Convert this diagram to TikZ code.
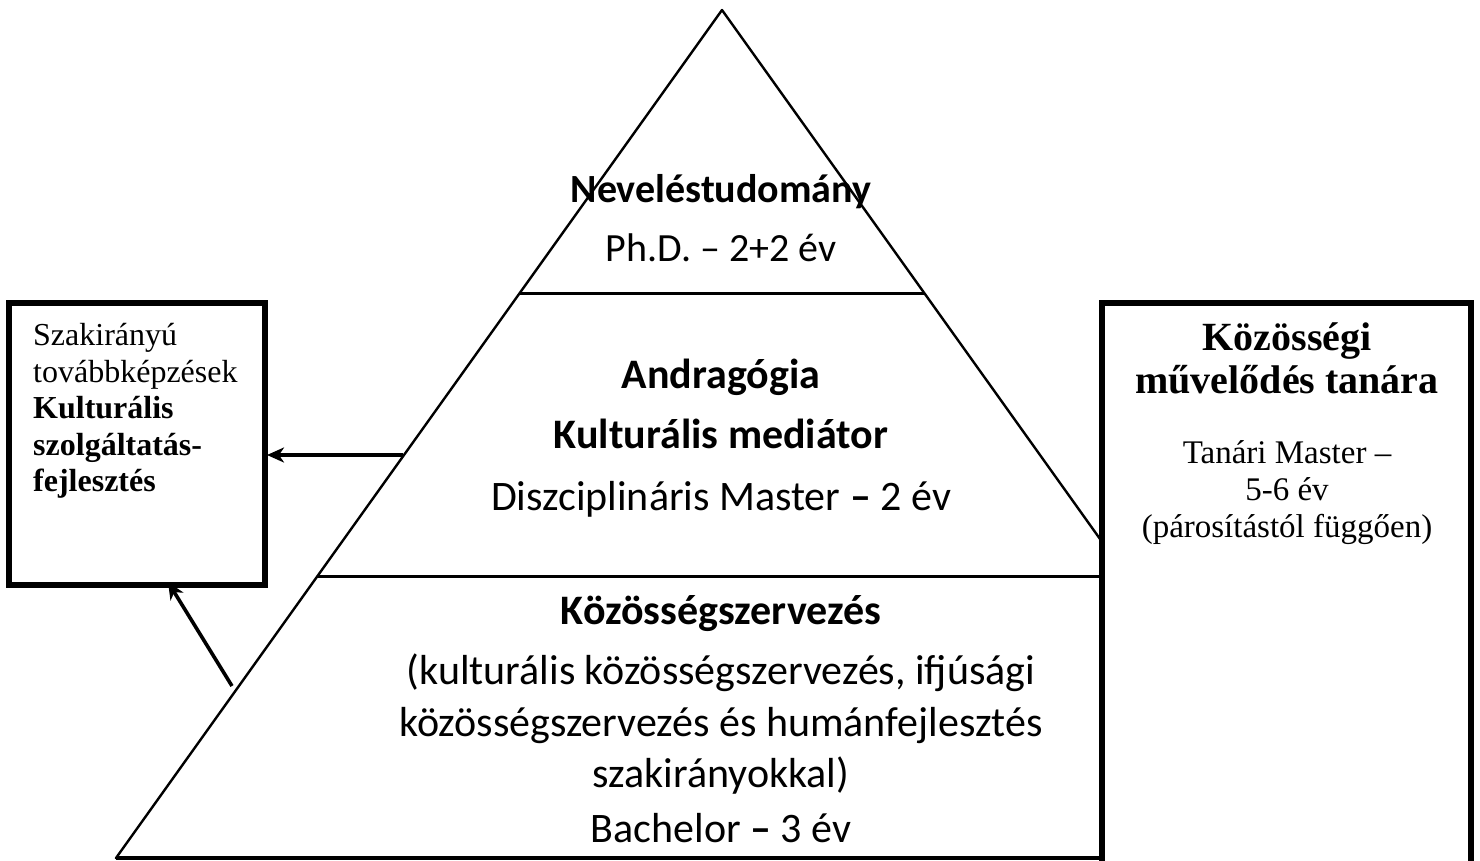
\documentclass[tikz,border=0pt]{standalone}
\usepackage{fontspec}
\usetikzlibrary{calc,arrows.meta}
\newfontfamily\calfont{Carlito}
\newfontfamily\serfont{Liberation Serif}
\begin{document}
\begin{tikzpicture}[x=1pt,y=-1pt,
  edge/.style={line width=2.4pt,line cap=round},
  divider/.style={line width=3pt},
  frame/.style={draw,line width=5.5pt,fill=white,inner sep=0pt,outer sep=0pt,rectangle},
  arr/.style={line width=3.6pt,-{Stealth[length=17pt,width=15pt,inset=5pt]}},
  sanslbl/.style={inner sep=0pt,anchor=base,font=\calfont\fontsize{42}{50}\selectfont},
  sanshead/.style={sanslbl,font=\calfont\bfseries\fontsize{42}{50}\selectfont},
  toplbl/.style={inner sep=0pt,anchor=base,font=\calfont\fontsize{40}{48}\selectfont},
  tophead/.style={toplbl,font=\calfont\bfseries\fontsize{40}{48}\selectfont},
  boxtxt/.style={inner sep=0pt,anchor=base west,font=\serfont\fontsize{32}{38}\selectfont},
  boxbold/.style={boxtxt,font=\serfont\bfseries\fontsize{32}{38}\selectfont},
  rtxt/.style={inner sep=0pt,anchor=base,font=\serfont\fontsize{33}{38}\selectfont},
  rbold/.style={rtxt,font=\serfont\bfseries\fontsize{40}{44}\selectfont}
]
\useasboundingbox[fill=white] (0,0) rectangle (1480,860);

% pyramid outline
\coordinate (apex) at (722,10);
\coordinate (bl) at (116,858);
\coordinate (br) at (1328,858);
\draw[edge,line join=round] (apex) -- (bl) -- (br) -- cycle;
\draw[line width=3.5pt] (bl) -- (br);

% level dividers
\coordinate (l1) at ($(apex)!0.33373!(bl)$);
\coordinate (r1) at ($(apex)!0.33373!(br)$);
\coordinate (l2) at ($(apex)!0.66745!(bl)$);
\coordinate (r2) at ($(apex)!0.66745!(br)$);
\draw[divider] (l1) -- (r1);
\draw[divider] (l2) -- (r2);

% side boxes
\node[frame,anchor=north west,minimum width=256pt,minimum height=282pt] (lbox) at (9,303) {};
\node[frame,anchor=north west,minimum width=369pt,minimum height=600pt] (rbox) at (1102,303) {};

% top level
\node[tophead] (nev) at (721,202) {Neveléstudomány};
\node[toplbl] (phd) at (721,261) {Ph.D. – 2+2 év};

% middle level
\node[sanshead] (andr) at (721,388) {Andragógia};
\node[sanshead] (kmed) at (721,448) {Kulturális mediátor};
\node[sanslbl] (dmst) at (721,510) {Diszciplináris Master \textbf{–} 2 év};

% bottom level
\node[sanshead] (kszv) at (721,624) {Közösségszervezés};
\node[sanslbl] (b1) at (721,684) {(kulturális közösségszervezés, ifjúsági};
\node[sanslbl] (b2) at (721,736) {közösségszervezés és humánfejlesztés};
\node[sanslbl] (b3) at (721,787) {szakirányokkal)};
\node[sanslbl] (bsc) at (721,842) {Bachelor \textbf{–} 3 év};

% left box text
\node[boxtxt] (lt1) at (33,345) {Szakirányú};
\node[boxtxt] (lt2) at (33,382) {továbbképzések};
\node[boxbold] (lt3) at (33,418) {Kulturális};
\node[boxbold] (lt4) at (33,455) {szolgáltatás-};
\node[boxbold] (lt5) at (33,491) {fejlesztés};

% right box text
\node[rbold] (rt1) at (1287,350) {Közösségi};
\node[rbold] (rt2) at (1287,393) {művelődés tanára};
\node[rtxt] (rt3) at (1287,463) {Tanári Master –};
\node[rtxt] (rt4) at (1287,500) {5-6 év};
\node[rtxt] (rt5) at (1287,537) {(párosítástól függően)};

% arrows into the left box
\coordinate (s1) at (403,455);
\coordinate (s2) at (232,686);
\draw[arr] (s1) -- ([xshift=2pt]s1 -| lbox.east);
\draw[arr] (s2) -- ([xshift=31pt,yshift=3pt]lbox.south);
\end{tikzpicture}
\end{document}
